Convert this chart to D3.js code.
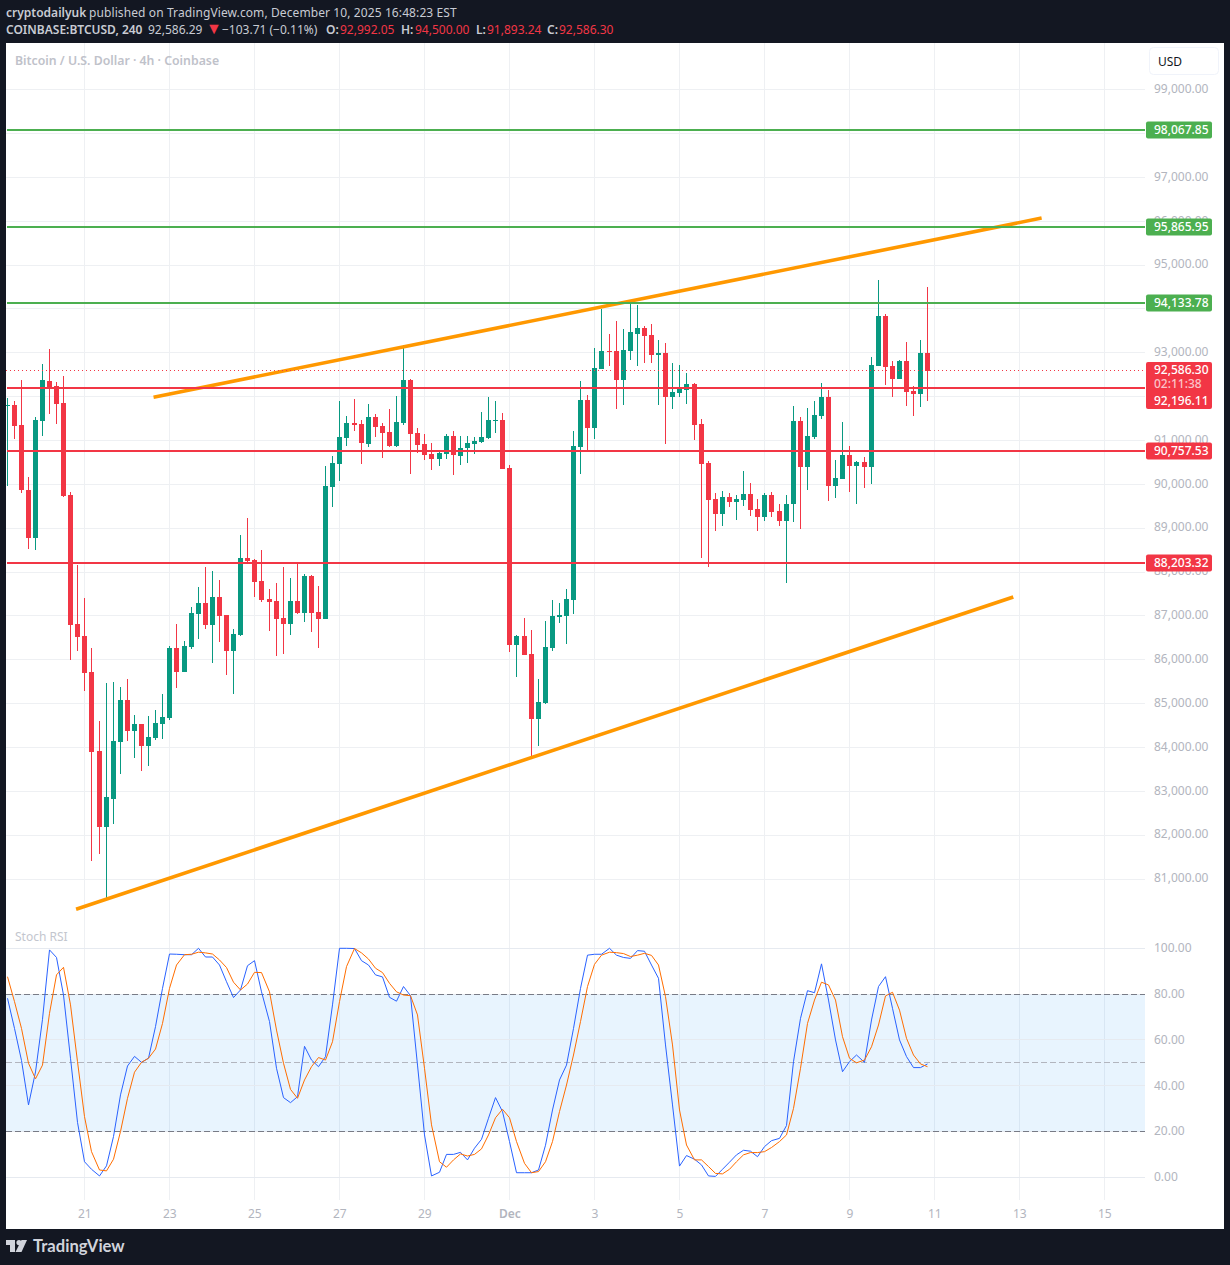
<!DOCTYPE html>
<html>
<head>
<meta charset="utf-8">
<script src="https://d3js.org/d3.v7.min.js"></script>
<style>
  html, body { margin: 0; background: #131722; overflow: hidden; }
  text { font-family: "Noto Sans", sans-serif; }
</style>
</head>
<body>
<svg></svg>
<script>
const opens = [
  91790,91810,91350,89870,88780,91440,92360,92240,91850,89760,
  86820,86540,85720,83920,82190,82830,84120,85080,84380,84530,
  84030,84220,84530,84670,86270,85720,86290,87040,87290,86790,
  87430,87020,86200,86560,88320,88270,87800,87380,87340,86950,
  86810,87340,87070,87910,87090,86930,89940,90460,91060,91400,
  91380,90920,91530,91330,91190,90870,91400,92380,91170,90920,
  90690,90580,90690,91100,90650,90830,90920,90960,91060,91440,
  91470,90370,86340,86540,86130,84650,85010,86270,86970,87000,
  87360,90850,91920,91280,92630,93040,93040,92380,93040,93430,
  93560,93400,92950,92990,91990,92080,92150,92290,91380,90490,
  89660,89320,89710,89600,89640,89780,89440,89250,89760,89390,
  89160,89550,91440,90390,91080,91560,91990,89960,90120,90670,
  90420,90510,90390,92700,93840,92700,92400,92810,92130,92060,
  92992.05];
const highs = [
  91970,91900,92380,90170,91530,92740,93080,92330,92470,89820,
  88160,87410,86270,84600,85470,85490,85380,85560,84740,84540,
  84720,84850,85220,86310,86820,86430,87200,87660,88110,88020,
  87820,87030,86700,88840,89230,88290,88500,87610,87750,88110,
  87860,88180,87950,87930,87680,90420,90640,91900,91560,91950,
  91470,91830,91600,91400,91720,92010,93180,92400,91280,91150,
  90940,90740,91150,91220,91100,91100,91080,91650,91990,91900,
  91630,90440,86560,86950,86680,85560,86880,87360,87290,87610,
  91220,92360,92040,93110,94000,93430,93720,93540,94180,94090,
  93610,93650,93290,93220,92770,92720,92540,92300,91490,90530,
  89800,89850,89800,89760,90300,90030,89660,89800,89820,89550,
  89760,91790,91530,91740,91900,92310,92150,90550,91420,90870,
  90520,90620,92900,94660,93880,92810,92830,93240,92240,93290,
  94500];
const lows = [
  89960,91030,89800,88520,88500,91100,91600,91380,89710,85990,
  86200,85290,81410,81570,80545,82250,83400,84150,83760,83460,
  83580,84170,84190,84630,85360,85710,86240,86470,86700,85930,
  86400,85650,85220,86550,88230,87430,87320,86660,86090,86130,
  86560,87040,86860,86630,86270,86920,89480,90080,90870,91220,
  90460,90850,91080,90600,90850,90860,91350,90240,90710,90550,
  90330,90420,90580,90210,90440,90490,90690,90950,91030,91170,
  90340,86180,85610,86100,83800,84030,85000,86200,86840,86360,
  87040,90240,90780,91030,92620,92700,91720,91810,92830,92700,
  92770,92770,91810,90920,91720,91990,91830,91010,88320,88110,
  88930,89050,89480,89190,89510,89280,88930,89160,89250,89050,
  87750,89140,88980,89870,91030,91490,89620,89690,90110,89820,
  89550,89920,90010,92690,92260,91990,92390,91790,91560,91760,
  91893.24];
const closes = [
  91810,91330,89870,88780,91470,92380,92170,91830,89730,86790,
  86520,85700,83900,82190,82870,84150,85080,84380,84530,84030,
  84240,84560,84690,86270,85720,86310,87070,87290,86790,87430,
  87000,86200,86590,88320,88250,87770,87360,87320,86930,86810,
  87340,87070,87910,87070,86930,89960,90490,91080,91400,91350,
  90940,91530,91310,91170,90870,91420,92380,91150,90900,90670,
  90580,90710,91100,90670,90830,90940,90990,91080,91470,91470,
  90350,86340,86540,86110,84650,85040,86290,87000,87020,87380,
  90870,91920,91280,92650,93040,93010,92380,93060,93470,93560,
  93380,92950,92990,91990,92100,92170,92290,91350,90460,89640,
  89320,89710,89600,89660,89780,89410,89250,89760,89370,89160,
  89550,91440,90390,91100,91580,91990,89960,90140,90670,90420,
  90510,90390,92720,93840,92670,92400,92810,92100,92060,92990,
  92586.30];
const stochK = [
  78.2,65,51,31.6,46,69,99.3,96,79.6,52,
  24,6.8,3.5,.6,5,17.8,36,48.6,52.8,50.2,
  52,65.8,82.5,97.5,97.4,97.2,97.2,100,96.2,96.2,
  92.7,85.4,78.5,81.8,92.4,94.6,81,68,47.6,34.8,
  32.6,35.2,57.2,51.2,48.3,52.7,75.3,100,100,99.9,
  94.6,92.7,88.4,87.5,78.6,76.9,83.3,79.3,49,18.5,
  .6,2.2,10,10,10.9,7.6,12.7,16.6,25.8,34.8,
  28.7,15.6,2,2,2,3.2,14,29.4,42.5,49,
  65,82.5,97,97.4,97.4,100,97,96,95.6,99,
  98.7,92.7,86.9,57.8,31.6,4.9,9.5,7.9,5.4,.6,
  .4,3.5,6.6,9.8,11.8,11.4,9,13.4,16,17,
  22.6,50.5,69.4,81.5,80.6,93.2,77.4,60,46.1,50.5,
  53.4,50.2,68.7,83.3,87.6,73.8,60,52.7,47.9,47.9,49.5];
const stochD = [
  87.6,76.7,65,49.8,43,49,71.6,88.4,91.7,75.3,
  50.5,26.5,11.2,3.2,2.8,7.9,20,34.5,45.9,50.2,
  52,56,67.2,82.5,92.7,97.2,97.4,98.3,98,97.5,
  94.9,91.6,85.2,81.8,84.4,89.5,89.4,81,64.3,49.8,
  38.4,34.5,42.5,48.3,52.3,51.2,59.2,76.7,92,99.9,
  98,95.3,91.3,89.4,84.7,81,79.6,79.3,70.9,47.6,
  22.9,6.8,4.4,7.6,10.2,9.3,10,12.4,18.5,26,
  29.7,26,15.6,6.1,2,2.5,6.8,15.6,28.7,40.3,
  53.4,68,83.3,93,97,98.3,98.1,97.7,96.4,97,
  97.8,96.9,92.7,78.9,57.8,29.4,14.1,7.6,7.6,4.7,
  1.7,1.5,3.5,6.8,9.8,10.8,10.8,11.2,13,15.6,
  18.5,30.1,47.6,67.2,77.4,85.2,84,77.4,61.4,52,
  50,51.2,57,66.5,79.2,80.8,73,60.7,53.4,49.5,48.3];

const priceTicks = [99000,98000,97000,96000,95000,94000,93000,92000,91000,90000,89000,88000,87000,86000,85000,84000,83000,82000,81000];
const coveredPriceLabels = [98000,94000,92000]; // sit fully under the level labels
const stochTicks = [100,80,60,40,20,0];
const stochDashes = [80,50,20];
const stochBand = [20,80];
const dateTicks = ['2025-11-21','2025-11-23','2025-11-25','2025-11-27','2025-11-29','2025-12-01','2025-12-03','2025-12-05','2025-12-07','2025-12-09','2025-12-11','2025-12-13','2025-12-15'];
const dateLabels = ['21','23','25','27','29','Dec','3','5','7','9','11','13','15'];
const greenLevels = [98067.85,95865.95,94133.78];
const redLevels = [92196.11,90757.53,88203.32];
const lastPrice = 92586.30;
const trendUpper = [['2025-11-22T14:30Z',91985],['2025-12-13T12:00Z',96070]];
const trendLower = [['2025-11-20T18:45Z',80310],['2025-12-12T20:00Z',87430]];

const UP = '#089981', DOWN = '#f23645', GREEN = '#4caf50', ORANGE = '#ff9800';
const chartW = 1230, chartH = 1265;
const paneLeft = 6, paneRight = 1224, paneTop = 43, paneBottom = 1229, plotRight = 1145;
const firstBar = Date.UTC(2025, 10, 19, 4);
const barMs = 4 * 3600 * 1000;
const toDate = s => new Date(s.length > 10 ? s : s + 'T00:00Z');

const x = d3.scaleUtc()
  .domain([new Date(firstBar), toDate('2025-12-15')])
  .range([7.45, 7.45 + 155 * 85 / 12]);
const y = d3.scaleLinear().domain([81000, 99000]).range([879, 89.6]);
const ys = d3.scaleLinear().domain([0, 100]).range([1177.3, 948.3]);

const barX = i => x(new Date(firstBar + i * barMs));
const snap = v => Math.floor(v - 0.5) + 0.5;
const barCol = i => Math.max(7.5, snap(barX(i)));
const snapY = v => Math.floor(v) + 0.5;

const svg = d3.select('svg').attr('width', chartW).attr('height', chartH).style('display', 'block');

svg.append('defs').append('clipPath').attr('id', 'plot')
  .append('rect').attr('x', paneLeft).attr('y', paneTop).attr('width', plotRight - paneLeft).attr('height', paneBottom - paneTop);

svg.append('rect').attr('x', paneLeft).attr('y', paneTop).attr('width', paneRight - paneLeft).attr('height', paneBottom - paneTop).attr('fill', '#ffffff');

// grid
let grid = svg.append('g').attr('stroke', '#eef0f3').attr('stroke-width', 1).attr('shape-rendering', 'crispEdges');
grid.selectAll('.v').data(dateTicks).join('line').attr('class', 'v')
  .attr('x1', d => snap(x(toDate(d)))).attr('x2', d => snap(x(toDate(d))))
  .attr('y1', paneTop).attr('y2', 1200);
grid.selectAll('.h').data(priceTicks).join('line').attr('class', 'h')
  .attr('x1', paneLeft).attr('x2', plotRight)
  .attr('y1', d => snapY(y(d))).attr('y2', d => snapY(y(d)));

// stoch pane background
svg.append('rect')
  .attr('x', paneLeft).attr('width', plotRight - paneLeft)
  .attr('y', ys(stochBand[1])).attr('height', ys(stochBand[0]) - ys(stochBand[1]))
  .attr('fill', 'rgba(33,150,243,0.1)');
let grid2 = svg.append('g').attr('stroke', '#e6eaf0').attr('stroke-width', 1).attr('shape-rendering', 'crispEdges');
grid2.selectAll('line').data(stochTicks).join('line')
  .attr('x1', paneLeft).attr('x2', plotRight)
  .attr('y1', d => snapY(ys(d))).attr('y2', d => snapY(ys(d)));
svg.append('g').selectAll('line').data(stochDashes).join('line')
  .attr('x1', paneLeft).attr('x2', plotRight)
  .attr('y1', d => snapY(ys(d))).attr('y2', d => snapY(ys(d)))
  .attr('stroke', d => d === 50 ? '#b2b5be' : '#787b86')
  .attr('stroke-dasharray', '6 3')
  .attr('shape-rendering', 'crispEdges');

let plot = svg.append('g').attr('clip-path', 'url(#plot)');

// stoch lines
const stochLine = d3.line().x((d, i) => barCol(i)).y(d => ys(d));
plot.append('path').attr('d', stochLine(stochK)).attr('fill', 'none').attr('stroke', '#2962ff').attr('stroke-width', 1);
plot.append('path').attr('d', stochLine(stochD)).attr('fill', 'none').attr('stroke', '#ff6d00').attr('stroke-width', 1);

// candles
const bars = d3.range(opens.length);
const color = i => closes[i] >= opens[i] ? UP : DOWN;
let candles = plot.append('g').attr('shape-rendering', 'crispEdges');
candles.selectAll('.wick').data(bars).join('line').attr('class', 'wick')
  .attr('x1', barCol).attr('x2', barCol)
  .attr('y1', i => y(highs[i])).attr('y2', i => y(lows[i]))
  .attr('stroke', color);
candles.selectAll('.body').data(bars).join('rect').attr('class', 'body')
  .attr('x', i => barCol(i) - 2.5)
  .attr('width', 5)
  .attr('y', i => y(Math.max(opens[i], closes[i])))
  .attr('height', i => Math.max(1, Math.abs(y(opens[i]) - y(closes[i]))))
  .attr('fill', color);

// trend lines
const trendLine = d3.line().x(d => x(toDate(d[0]))).y(d => y(d[1]));
[trendUpper, trendLower].forEach(t => {
  plot.append('path').attr('d', trendLine(t)).attr('fill', 'none').attr('stroke', ORANGE).attr('stroke-width', 3.6);
});

// last price dotted
plot.append('line')
  .attr('x1', paneLeft).attr('x2', plotRight)
  .attr('y1', snapY(y(lastPrice))).attr('y2', snapY(y(lastPrice)))
  .attr('stroke', DOWN).attr('stroke-dasharray', '1 3').attr('shape-rendering', 'crispEdges');

// horizontal levels
const levelLines = (vals, col) => svg.append('g').selectAll('line').data(vals).join('line')
  .attr('x1', paneLeft + 1).attr('x2', plotRight)
  .attr('y1', d => Math.round(y(d))).attr('y2', d => Math.round(y(d)))
  .attr('stroke', col).attr('stroke-width', 2).attr('shape-rendering', 'crispEdges');
levelLines(greenLevels, GREEN);
levelLines(redLevels, DOWN);

// axes
const fmt = d3.format(',.2f');
const styleAxis = g => {
  g.select('.domain').remove();
  g.selectAll('.tick line').remove();
  g.selectAll('text').attr('fill', '#b2b5be').style('font-size', '12px').style('font-family', '"Noto Sans", sans-serif');
};
svg.append('g').attr('transform', `translate(${plotRight},-1)`)
  .call(d3.axisRight(y).tickValues(priceTicks.filter(d => !coveredPriceLabels.includes(d))).tickFormat(fmt).tickPadding(9).tickSize(0))
  .call(styleAxis);
svg.append('g').attr('transform', `translate(${plotRight},-0.5)`)
  .call(d3.axisRight(ys).tickValues(stochTicks).tickFormat(fmt).tickPadding(9).tickSize(0))
  .call(styleAxis);
svg.append('g').attr('transform', 'translate(-1,1209.5)')
  .call(d3.axisBottom(x).tickValues(dateTicks.map(toDate)).tickFormat((d, i) => dateLabels[i]).tickPadding(0).tickSize(0))
  .call(styleAxis)
  .selectAll('text').attr('font-weight', d => +d === +toDate('2025-12-01') ? 600 : 400);

// price labels
const labelBox = (yc, h, col) => svg.append('rect')
  .attr('x', 1146).attr('y', yc - h / 2).attr('width', 66).attr('height', h).attr('rx', 2).attr('fill', col);
const labelText = (yc, str, col) => svg.append('text')
  .attr('x', 1154).attr('y', yc).attr('dy', '0.35em')
  .attr('fill', col).style('font-size', '12px').style('font-weight', 500).text(str);

greenLevels.forEach(v => {
  labelBox(Math.round(y(v)), 17, GREEN);
  labelText(Math.round(y(v)), fmt(v), '#ffffff');
});
labelBox(Math.round(y(redLevels[1])), 17, DOWN);
labelText(Math.round(y(redLevels[1])), fmt(redLevels[1]), '#ffffff');
labelBox(Math.round(y(redLevels[2])), 17, DOWN);
labelText(Math.round(y(redLevels[2])), fmt(redLevels[2]), '#ffffff');
labelBox(385.5, 47, DOWN);
labelText(369.5, fmt(lastPrice), '#ffffff');
labelText(384, '02:11:38', '#fbc4c9');
labelText(400.5, fmt(redLevels[0]), '#ffffff');

// USD button
svg.append('rect').attr('x', 1149.5).attr('y', 47.5).attr('width', 69).attr('height', 27).attr('rx', 4)
  .attr('fill', '#ffffff').attr('stroke', '#f0f3fa');
svg.append('text').attr('x', 1158).attr('y', 61.5).attr('dy', '0.35em').attr('fill', '#131722')
  .style('font-size', '12px').text('USD');

// titles on the chart
svg.append('text').attr('x', 15).attr('y', 60.5).attr('dy', '0.35em').attr('fill', '#bfc2ca')
  .style('font-size', '12.3px').style('font-weight', 600).text('Bitcoin / U.S. Dollar · 4h · Coinbase');
svg.append('text').attr('x', 15).attr('y', 936.5).attr('dy', '0.35em').attr('fill', '#c3c6ce')
  .style('font-size', '12px').text('Stoch RSI');

// header
const GREY = '#c8cbd3';
let h1 = svg.append('text').attr('y', 12.5).attr('dy', '0.35em').attr('fill', GREY).style('font-size', '12px');
h1.append('tspan').attr('x', 6).style('font-weight', 600).text('cryptodailyuk');
h1.append('tspan').attr('x', 89).style('letter-spacing', '0.1px').text('published on TradingView.com, December 10, 2025 16:48:23 EST');

let h2 = svg.append('text').attr('y', 29.5).attr('dy', '0.35em').attr('fill', GREY).style('font-size', '12px');
const h2Parts = [
  [6, 'COINBASE:BTCUSD, 240', GREY, 600], [148, '92,586.29', GREY, 400], [206, '▼', DOWN, 400], [222, '−103.71 (−0.11%)', GREY, 400],
  [326, 'O:', GREY, 600], [340, '92,992.05', DOWN, 400], [401, 'H:', GREY, 600], [415, '94,500.00', DOWN, 400],
  [476, 'L:', GREY, 600], [487, '91,893.24', DOWN, 400], [547, 'C:', GREY, 600], [559, '92,586.30', DOWN, 400]
];
h2Parts.forEach(d => {
  h2.append('tspan').attr('x', d[0]).attr('fill', d[2]).style('font-weight', d[3])
    .style('font-size', d[1] === '▼' ? '16px' : '12px').text(d[1]);
});

// logo
let logo = svg.append('g').attr('fill', '#d1d4dc').attr('transform', 'translate(6,1240)');
logo.append('path').attr('d', 'M0 0H9V12H4V5H0Z');
logo.append('circle').attr('cx', 13).attr('cy', 2.6).attr('r', 2.6);
logo.append('path').attr('d', 'M15.5 0H21L15.5 12H9.5Z');
svg.append('text').attr('x', 33).attr('y', 1246).attr('dy', '0.35em').attr('fill', '#d1d4dc')
  .style('font-family', 'Lato, sans-serif').style('font-size', '16.6px').style('font-weight', 700).text('TradingView');
</script>
</body>
</html>
